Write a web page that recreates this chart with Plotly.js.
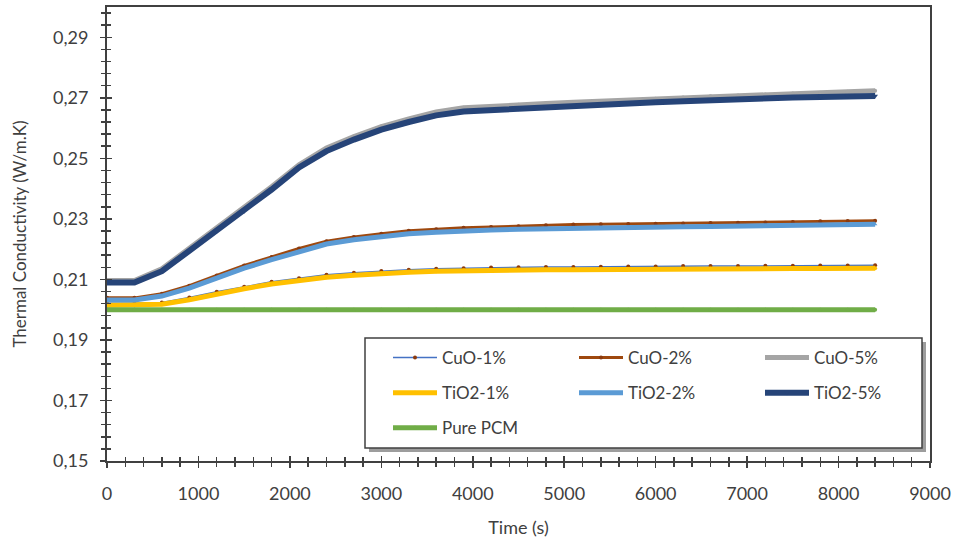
<!DOCTYPE html>
<html>
<head>
<meta charset="utf-8">
<script src="https://cdn.plot.ly/plotly-3.0.1.min.js"></script>
<style>
  html, body { margin: 0; padding: 0; background: #ffffff; }
  #chart { width: 955px; height: 546px; }
</style>
</head>
<body>
<div id="chart"></div>
<script>
// ---- data ----
const time = [0,300,600,900,1200,1500,1800,2100,2400,2700,3000,3300,3600,3900,4200,4500,4800,5100,5400,5700,6000,6300,6600,6900,7200,7500,7800,8100,8400];

const cuo1 = [0.2021,0.2021,0.2024,0.2040,0.2059,0.2076,0.2092,0.2104,0.2115,0.2122,0.2128,0.2132,0.2135,0.2137,0.2139,0.2140,0.2141,0.2141,0.2142,0.2143,0.2143,0.2144,0.2144,0.2144,0.2145,0.2145,0.2146,0.2146,0.2147];
const cuo2 = [0.2039,0.2039,0.2053,0.2079,0.2113,0.2146,0.2174,0.2202,0.2226,0.2240,0.2251,0.2261,0.2266,0.2271,0.2273,0.2276,0.2279,0.2281,0.2282,0.2283,0.2284,0.2285,0.2286,0.2287,0.2288,0.2290,0.2292,0.2293,0.2294];
const cuo5 = [0.2096,0.2096,0.2135,0.2202,0.2268,0.2334,0.2406,0.2479,0.2534,0.2572,0.2605,0.2630,0.2653,0.2667,0.2673,0.2677,0.2681,0.2685,0.2689,0.2693,0.2697,0.2701,0.2705,0.2708,0.2711,0.2714,0.2717,0.2720,0.2723];
const tio1 = [0.2015,0.2015,0.2018,0.2033,0.2052,0.2069,0.2085,0.2097,0.2107,0.2114,0.2120,0.2124,0.2127,0.2129,0.2130,0.2131,0.2132,0.2132,0.2133,0.2134,0.2134,0.2135,0.2135,0.2135,0.2136,0.2136,0.2136,0.2137,0.2137];
const tio2 = [0.2032,0.2032,0.2045,0.2071,0.2104,0.2137,0.2165,0.2193,0.2217,0.2231,0.2242,0.2251,0.2256,0.2261,0.2263,0.2266,0.2268,0.2270,0.2271,0.2272,0.2273,0.2274,0.2275,0.2276,0.2277,0.2279,0.2280,0.2281,0.2282];
const tio5 = [0.2090,0.2090,0.2127,0.2193,0.2259,0.2325,0.2397,0.2470,0.2524,0.2562,0.2595,0.2620,0.2642,0.2655,0.2660,0.2664,0.2669,0.2673,0.2677,0.2681,0.2685,0.2689,0.2693,0.2696,0.2699,0.2701,0.2703,0.2705,0.2706];
const purePCM = [0.2000,0.2000,0.2000,0.2000,0.2000,0.2000,0.2000,0.2000,0.2000,0.2000,0.2000,0.2000,0.2000,0.2000,0.2000,0.2000,0.2000,0.2000,0.2000,0.2000,0.2000,0.2000,0.2000,0.2000,0.2000,0.2000,0.2000,0.2000,0.2000];

const seriesNames = ["CuO-1%","CuO-2%","CuO-5%","TiO2-1%","TiO2-2%","TiO2-5%","Pure PCM"];
const xTitle = "Time (s)";
const yTitle = "Thermal Conductivity (W/m.K)";

// ---- styles ----
const FONT = "Lato, 'Open Sans', 'DejaVu Sans', sans-serif";
const TXT = "#404040";
const AX = "#404040";

function tr(name, y, lineColor, width, markerColor, symbol, msize, legend) {
  return {
    type: "scatter", mode: "lines+markers", name: name,
    x: time, y: y,
    line: { color: lineColor, width: width },
    marker: { color: markerColor, size: msize, symbol: symbol },
    legend: legend, legendgroup: name
  };
}

const data = [
  tr(seriesNames[0], cuo1, "#4472C4", 1.5, "#8B3A0E", "circle", 4, "legend"),
  tr(seriesNames[1], cuo2, "#9E480E", 3, "#8B3A0E", "circle", 4, "legend2"),
  tr(seriesNames[2], cuo5, "#A5A5A5", 5, "#A5A5A5", "circle", 4, "legend3"),
  tr(seriesNames[3], tio1, "#FFC000", 5, "#FFC000", "circle", 4, "legend"),
  tr(seriesNames[4], tio2, "#5B9BD5", 5, "#5B9BD5", "triangle-up", 4, "legend2"),
  tr(seriesNames[5], tio5, "#264478", 6, "#264478", "triangle-down", 5, "legend3"),
  tr(seriesNames[6], purePCM, "#70AD47", 5, "#70AD47", "circle", 4, "legend"),
  { type: "scatter", x: [], y: [], xaxis: "x2", yaxis: "y2", showlegend: false }
];

const L = 107, R = 930, T = 7, B = 461;
const PW = R - L, PH = B - T;
const px = v => (v - L) / PW;
const py = v => (B - v) / PH;

const legendBase = {
  orientation: "v", bgcolor: "rgba(0,0,0,0)", borderwidth: 0,
  font: { family: FONT, size: 17, color: TXT },
  tracegroupgap: 10, itemwidth: 44, yanchor: "top", xanchor: "left"
};

const xCommon = {
  range: [0, 9000], tick0: 0, dtick: 1000,
  showgrid: false, zeroline: false, fixedrange: true
};
const yCommon = {
  range: [0.15, 0.30], tick0: 0.15, dtick: 0.02,
  showgrid: false, zeroline: false, fixedrange: true
};

const layout = {
  width: 955, height: 546,
  margin: { l: L, r: 955 - R, t: T, b: 546 - B, pad: 0 },
  paper_bgcolor: "#ffffff", plot_bgcolor: "#ffffff",
  separators: ", ",
  font: { family: FONT, color: TXT },
  showlegend: true,
  xaxis: Object.assign({}, xCommon, {
    ticks: "outside", ticklen: 5, tickwidth: 1.5, tickcolor: AX,
    minor: { dtick: 200, tick0: 0, ticks: "outside", ticklen: 4, tickwidth: 1.5, tickcolor: AX },
    showline: true, linecolor: AX, linewidth: 2, mirror: true,
    tickfont: { family: FONT, size: 18, color: TXT },
    ticklabelstandoff: 10,
    title: { text: xTitle, font: { family: FONT, size: 18, color: TXT }, standoff: 19 }
  }),
  xaxis2: Object.assign({}, xCommon, {
    overlaying: "x", anchor: "y", side: "bottom",
    ticks: "inside", ticklen: 5, tickwidth: 1.5, tickcolor: AX,
    minor: { dtick: 200, tick0: 0, ticks: "inside", ticklen: 4, tickwidth: 1.5, tickcolor: AX },
    showline: false, showticklabels: false
  }),
  yaxis: Object.assign({}, yCommon, {
    tickformat: ".2f",
    ticks: "outside", ticklen: 5, tickwidth: 1.5, tickcolor: AX,
    minor: { dtick: 0.004, tick0: 0.15, ticks: "outside", ticklen: 4, tickwidth: 1.5, tickcolor: AX },
    showline: true, linecolor: AX, linewidth: 2, mirror: true,
    tickfont: { family: FONT, size: 18, color: TXT },
    ticklabelstandoff: 8,
    title: { text: yTitle, font: { family: FONT, size: 17, color: TXT }, standoff: 22 }
  }),
  yaxis2: Object.assign({}, yCommon, {
    overlaying: "y", anchor: "x", side: "left",
    ticks: "inside", ticklen: 5, tickwidth: 1.5, tickcolor: AX,
    minor: { dtick: 0.004, tick0: 0.15, ticks: "inside", ticklen: 4, tickwidth: 1.5, tickcolor: AX },
    showline: false, showticklabels: false
  }),
  legend: Object.assign({}, legendBase, { x: px(388), y: py(340) }),
  legend2: Object.assign({}, legendBase, { x: px(574), y: py(340) }),
  legend3: Object.assign({}, legendBase, { x: px(760), y: py(340) }),
  shapes: [
    { type: "rect", xref: "paper", yref: "paper", layer: "below",
      x0: px(369), x1: px(926), y0: py(452), y1: py(342),
      fillcolor: "rgba(60,60,60,0.5)", line: { width: 0 } },
    { type: "rect", xref: "paper", yref: "paper", layer: "below",
      x0: px(365), x1: px(922), y0: py(448), y1: py(338),
      fillcolor: "#ffffff", line: { color: "#404040", width: 1.5 } }
  ]
};

Plotly.newPlot("chart", data, layout, { staticPlot: true, displayModeBar: false });
</script>
</body>
</html>
